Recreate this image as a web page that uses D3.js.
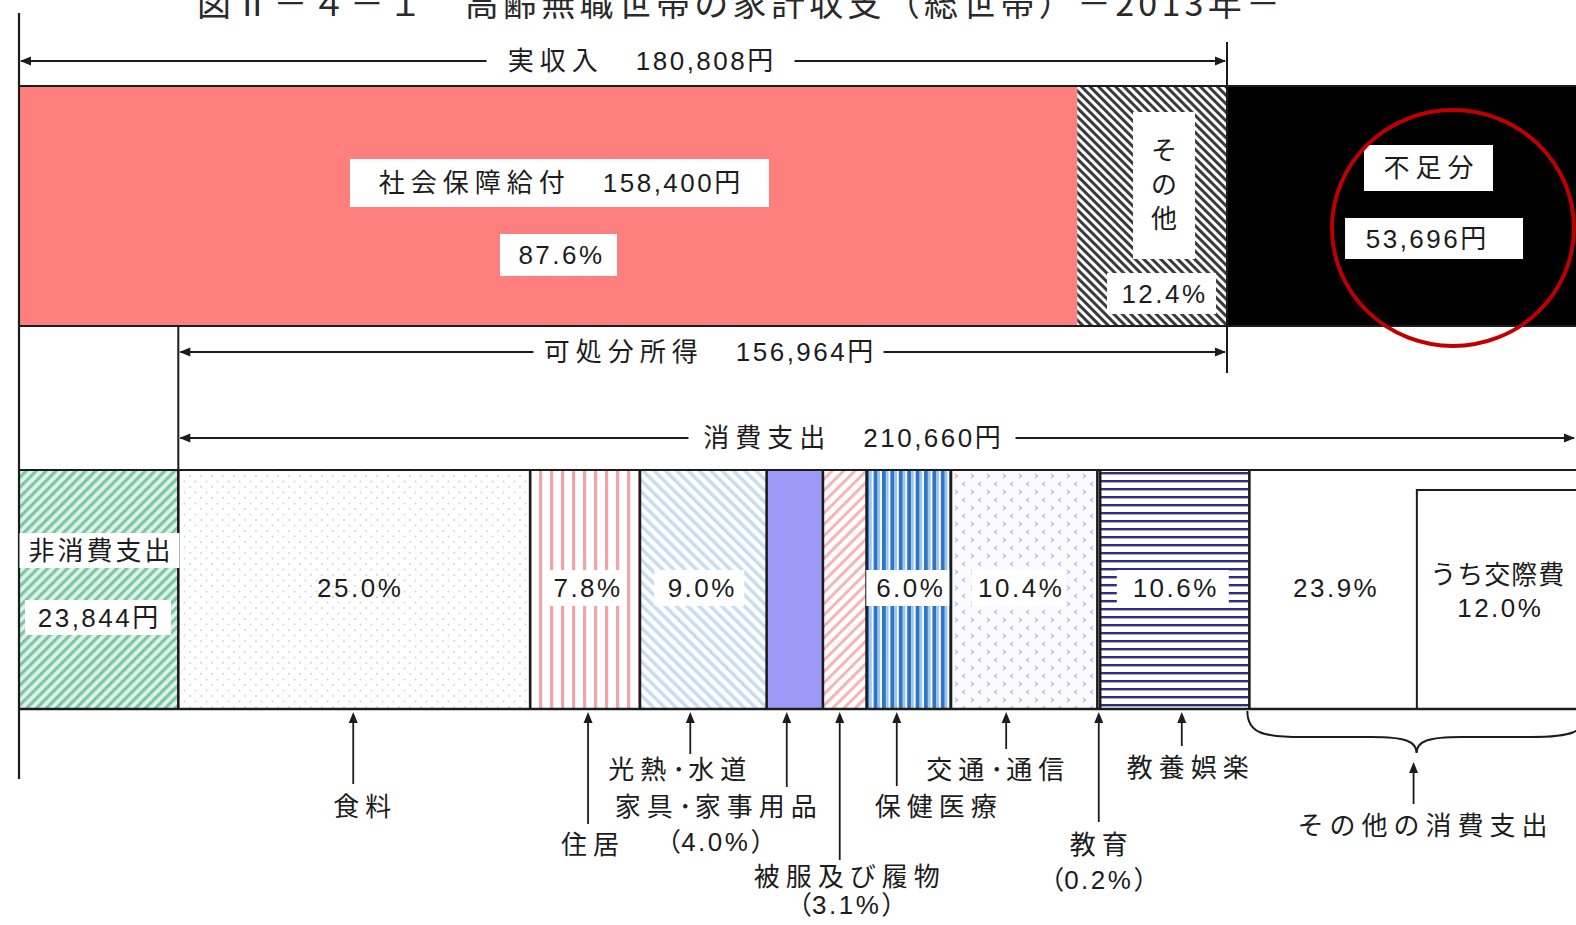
<!DOCTYPE html>
<html><head><meta charset="utf-8">
<script src="https://cdn.jsdelivr.net/npm/d3@7"></script>
<style>
html,body{margin:0;padding:0;background:#fff;overflow:hidden}
svg{display:block}
text{font-family:"Liberation Sans","Noto Sans CJK JP",sans-serif;fill:#1c1c1c}
</style></head><body><svg id="c" width="1576" height="925"></svg>
<script>
// ---------------- data ----------------
const title = "図Ⅱ－４－１　高齢無職世帯の家計収支（総世帯）－2013年－";
const incomeCategories = ["社会保障給付", "その他"];
const incomeValues = [158400, 22408];
const incomeShares = [87.6, 12.4];
const realIncomeLabel = "実収入";
const realIncome = 180808;
const disposableLabel = "可処分所得";
const disposableIncome = 156964;
const deficitLabel = "不足分";
const deficit = 53696;
const nonConsumptionLabel = "非消費支出";
const nonConsumption = 23844;
const consumptionLabel = "消費支出";
const consumptionTotal = 210660;
const consumptionCategories = ["食料", "住居", "光熱･水道", "家具･家事用品", "被服及び履物", "保健医療", "交通･通信", "教育", "教養娯楽", "その他の消費支出"];
const consumptionShares = [25.0, 7.8, 9.0, 4.0, 3.1, 6.0, 10.4, 0.2, 10.6, 23.9];
const socialExpenseLabel = "うち交際費";
const socialExpenseShare = 12.0;

// ---------------- setup ----------------
const W = 1576, H = 925;
const svg = d3.select("#c");
const yen = d3.format(",");
const pct = d3.format(".1f");
const x = d3.scaleLinear().domain([0, realIncome]).range([19, 1227]);
const topY0 = 86, topY1 = 326, botY0 = 470, botY1 = 709;
const INK = "#1c1c1c";

const RX = /[\u3000-\u30ff\u3400-\u9fff\uff00-\uff64\uff66-\uffef\u2160-\u217f]/;
const isCJK = s => RX.test(s);
function rich(t, str, cjkLS = 6, latLS = 2.5) {
  const runs = str.match(/[\u3000-\u30ff\u3400-\u9fff\uff00-\uff64\uff66-\uffef\u2160-\u217f]+|[^\u3000-\u30ff\u3400-\u9fff\uff00-\uff64\uff66-\uffef\u2160-\u217f]+/g);
  runs.forEach(r => t.append("tspan").text(r).attr("letter-spacing", isCJK(r) ? cjkLS : (r === "･" ? 3 : latLS)));
  return t;
}
function label(g, str, cx, cy, opt = {}) {
  const t = g.append("text").attr("x", cx).attr("y", cy)
    .attr("text-anchor", "middle").attr("dominant-baseline", "central")
    .attr("font-size", opt.size || 26);
  rich(t, str, opt.cjk ?? 6, opt.lat ?? 2.5);
  t.attr("dx", (opt.cjk ?? 6) / 2);
  return t;
}
function box(g, cx, cy, w, h) {
  g.append("rect").attr("x", cx - w / 2).attr("y", cy - h / 2).attr("width", w).attr("height", h).attr("fill", "#fff");
}
function head(g, px, py, dir) {
  const L = 11, hw = 4.5;
  let p;
  if (dir === "left") p = [[px, py], [px + L, py - hw], [px + L, py + hw]];
  if (dir === "right") p = [[px, py], [px - L, py - hw], [px - L, py + hw]];
  if (dir === "up") p = [[px, py], [px - hw, py + L], [px + hw, py + L]];
  g.append("path").attr("d", d3.line()(p) + "Z").attr("fill", INK);
}
function hline(g, x0, x1, y, w = 2) {
  g.append("line").attr("x1", x0).attr("x2", x1).attr("y1", y).attr("y2", y).attr("stroke", INK).attr("stroke-width", w);
}
function vline(g, xx, y0, y1, w = 2) {
  g.append("line").attr("x1", xx).attr("x2", xx).attr("y1", y0).attr("y2", y1).attr("stroke", INK).attr("stroke-width", w);
}

// ---------------- patterns ----------------
const defs = svg.append("defs");
function stripes(id, period, fg, fgW, bg, angle) {
  const p = defs.append("pattern").attr("id", id).attr("patternUnits", "userSpaceOnUse")
    .attr("width", period).attr("height", period);
  if (angle) p.attr("patternTransform", `rotate(${angle})`);
  p.append("rect").attr("width", period).attr("height", period).attr("fill", bg);
  p.append("rect").attr("width", fgW).attr("height", period).attr("fill", fg);
  return p;
}
stripes("pOtherInc", 6, "#3a3a3a", 3, "#ffffff", -45);
stripes("pNonCons", 7, "#7cc7a3", 3.2, "#dff2e8", 45);
stripes("pHousing", 11, "#f3a3a6", 3.2, "#ffffff", 0);
stripes("pUtil", 8, "#c6dcf0", 3.5, "#ffffff", -45);
stripes("pCloth", 8, "#f5b5b5", 3, "#ffffff", 45);
(function () {
  const p = defs.append("pattern").attr("id", "pHealth").attr("patternUnits", "userSpaceOnUse").attr("width", 8.4).attr("height", 10);
  p.append("rect").attr("width", 8.4).attr("height", 10).attr("fill", "#ffffff");
  p.append("rect").attr("width", 4).attr("height", 10).attr("fill", "#2f74c8");
  p.append("rect").attr("x", 4).attr("width", 2.6).attr("height", 10).attr("fill", "#9cc6ee");
})();
(function () {
  const p = defs.append("pattern").attr("id", "pCulture").attr("patternUnits", "userSpaceOnUse").attr("width", 10).attr("height", 8);
  p.append("rect").attr("width", 10).attr("height", 8).attr("fill", "#ffffff");
  p.append("rect").attr("width", 10).attr("height", 2.4).attr("fill", "#2e2e80");
})();
(function () {
  const p = defs.append("pattern").attr("id", "pFood").attr("patternUnits", "userSpaceOnUse").attr("width", 11).attr("height", 11);
  p.append("rect").attr("width", 11).attr("height", 11).attr("fill", "#ffffff");
  p.append("circle").attr("cx", 3).attr("cy", 3).attr("r", 0.9).attr("fill", "#cfcfcf");
  p.append("circle").attr("cx", 8.5).attr("cy", 8.5).attr("r", 0.9).attr("fill", "#e2cccc");
})();
(function () {
  const p = defs.append("pattern").attr("id", "pTrans").attr("patternUnits", "userSpaceOnUse").attr("width", 16).attr("height", 16);
  p.append("rect").attr("width", 16).attr("height", 16).attr("fill", "#fbfbff");
  p.append("path").attr("d", "M5,2 L2.5,4 L5,6").attr("fill", "none").attr("stroke", "#b7b7ea").attr("stroke-width", 1.2);
  p.append("path").attr("d", "M11,10 L13.5,12 L11,14").attr("fill", "none").attr("stroke", "#b7b7ea").attr("stroke-width", 1.2);
})();
const consFills = ["url(#pFood)", "url(#pHousing)", "url(#pUtil)", "#9b9bf7", "url(#pCloth)", "url(#pHealth)", "url(#pTrans)", "#ffffff", "url(#pCulture)", "#ffffff"];

// ---------------- title (clipped at top, as in the source) ----------------
svg.append("text").attr("x", 197).attr("y", 16).attr("font-size", 34)
  .attr("textLength", 1083).attr("lengthAdjust", "spacing")
  .style("font-family", '"Noto Sans CJK JP",sans-serif').style("fill", "#2a2a2a").text(title);

// ---------------- top bar ----------------
const gTop = svg.append("g");
let acc = 0;
const incSegs = incomeValues.map((v, i) => { const s = { name: incomeCategories[i], v, share: incomeShares[i], x0: acc, x1: acc + v }; acc += v; return s; });
gTop.selectAll("rect.inc").data(incSegs).join("rect")
  .attr("x", d => x(d.x0)).attr("width", d => x(d.x1) - x(d.x0))
  .attr("y", topY0).attr("height", topY1 - topY0)
  .attr("fill", (d, i) => i === 0 ? "#ff7f7f" : "url(#pOtherInc)");
gTop.append("rect").attr("x", x(realIncome)).attr("width", x(realIncome + deficit) - x(realIncome))
  .attr("y", topY0).attr("height", topY1 - topY0).attr("fill", "#000");

// ---------------- bottom bar ----------------
const gBot = svg.append("g");
gBot.append("rect").attr("x", x(0)).attr("width", x(nonConsumption) - x(0))
  .attr("y", botY0).attr("height", botY1 - botY0).attr("fill", "url(#pNonCons)");
let cum = nonConsumption;
const consSegs = consumptionShares.map((s, i) => {
  const v = consumptionTotal * s / 100;
  const seg = { name: consumptionCategories[i], share: s, x0: cum, x1: cum + v, fill: consFills[i] };
  cum += v; return seg;
});
gBot.selectAll("rect.cons").data(consSegs).join("rect")
  .attr("x", d => x(d.x0)).attr("width", d => x(d.x1) - x(d.x0))
  .attr("y", botY0).attr("height", botY1 - botY0).attr("fill", d => d.fill);
const divs = [nonConsumption].concat(consSegs.map(d => d.x1).slice(0, -1));
divs.forEach(d => vline(gBot, x(d), botY0, botY1, 2.6));

const lastSeg = consSegs[consSegs.length - 1];
const kosaiX0 = lastSeg.x1 - consumptionTotal * socialExpenseShare / 100;
gBot.append("rect").attr("x", x(kosaiX0)).attr("y", 490).attr("width", x(lastSeg.x1) - x(kosaiX0)).attr("height", botY1 - 490)
  .attr("fill", "#fff").attr("stroke", INK).attr("stroke-width", 2);

const gL = svg.append("g");
hline(gL, x(0), W, topY0, 2.2);
hline(gL, x(0), W, topY1, 2.2);
hline(gL, x(0), W, botY0, 2.2);
hline(gL, x(0), W, botY1, 2.6);
vline(gL, x(0), 13, 779, 2.2);
vline(gL, x(realIncome), 42, 373, 2);
vline(gL, x(nonConsumption), topY1, botY0, 2);

// ---------------- top labels ----------------
const gT = svg.append("g");
box(gT, 559.5, 183, 419, 48);
label(gT, incomeCategories[0] + "　" + yen(incomeValues[0]) + "円", 559.5, 183);
box(gT, 558.5, 255, 117, 42);
label(gT, pct(incomeShares[0]) + "%", 558.5, 255);
box(gT, 1164, 185.5, 62, 147);
[...incomeCategories[1]].forEach((ch, i) => label(gT, ch, 1164, 151 + i * 34, { cjk: 0 }));
box(gT, 1161.5, 293.5, 109, 41);
label(gT, pct(incomeShares[1]) + "%", 1161.5, 293.5);
box(gT, 1428.5, 168, 129, 46);
label(gT, deficitLabel, 1428.5, 168);
box(gT, 1434, 238.5, 178, 41);
label(gT, yen(deficit) + "円", 1426, 238.5);
svg.append("ellipse").attr("cx", 1453).attr("cy", 228).attr("rx", 121).attr("ry", 118)
  .attr("fill", "none").attr("stroke", "#c00000").attr("stroke-width", 4);

// ---------------- span arrows ----------------
function span(g, x0, x1, y, txt, cx, gapW, headR = true) {
  hline(g, x0 + 2, x1 - 2, y, 1.8);
  head(g, x0 + 1, y, "left");
  if (headR) head(g, x1 - 1, y, "right");
  box(g, cx, y, gapW, 34);
  label(g, txt, cx, y);
}
const gS = svg.append("g");
span(gS, x(0), x(realIncome), 61, realIncomeLabel + "　" + yen(realIncome) + "円", 640.5, 308);
span(gS, x(nonConsumption), x(realIncome), 352, disposableLabel + "　" + yen(disposableIncome) + "円", 708.5, 350);
span(gS, x(nonConsumption), W, 438, consumptionLabel + "　" + yen(consumptionTotal) + "円", 852, 327);

// ---------------- bottom in-bar labels ----------------
const gB = svg.append("g");
box(gB, 99.5, 550.5, 160, 35);
label(gB, nonConsumptionLabel, 99.5, 550.5, { cjk: 3 });
box(gB, 98, 617.5, 146, 35);
label(gB, yen(nonConsumption) + "円", 98, 617.5);

const inLayout = [
  { dx: 3 }, { dx: 0, w: 78 }, { dx: -4, w: 90 }, null, null,
  { dx: -1, w: 83 }, { dx: -6, w: 93 }, null, { dx: -2, w: 112 }, { at: "mid" }
];
consSegs.forEach((d, i) => {
  const L = inLayout[i]; if (!L) return;
  let cx = (x(d.x0) + x(d.x1)) / 2 + (L.dx || 0);
  if (L.at === "mid") cx = (x(d.x0) + x(kosaiX0)) / 2;
  if (L.w) box(gB, cx, 588, L.w, 36);
  label(gB, pct(d.share) + "%", cx, 588);
});
const kcx = (x(kosaiX0) + x(lastSeg.x1)) / 2 - 4;
label(gB, socialExpenseLabel, kcx, 575, { cjk: 1 });
label(gB, pct(socialExpenseShare) + "%", kcx, 608);

// ---------------- below-bar labels ----------------
const gA = svg.append("g");
const paren = s => "（" + pct(s) + "%）";
const below = [
  { adx: -1, end: 784, lines: [[0, 9, 807]] },
  { adx: 3, end: 824, lines: [[0, 2, 845]] },
  { adx: -13, end: 754, lines: [[0, -13, 770]] },
  { adx: -8, end: 787, lines: [[0, -71, 807], [1, -71, 842]] },
  { adx: -5, end: 860, lines: [[0, 7, 877], [1, 7, 905]] },
  { adx: -12, end: 786, lines: [[0, 39, 807]] },
  { adx: -18, end: 749, lines: [[0, -11, 770]] },
  { adx: 0, end: 822, lines: [[0, 0, 845], [1, 0, 880]] },
  { adx: 7, end: 746, lines: [[0, 6, 768]] }
];
below.forEach((b, i) => {
  const d = consSegs[i];
  const ax = (x(d.x0) + x(d.x1)) / 2 + b.adx;
  vline(gA, ax, botY1 + 8, b.end, 1.8);
  head(gA, ax, botY1 + 3, "up");
  b.lines.forEach(([kind, ldx, ly]) => {
    label(gA, kind === 0 ? d.name : paren(d.share), ax + ldx, ly, kind === 0 ? {} : { cjk: 0 });
  });
});
const bx0 = x(lastSeg.x0) - 2, bx1 = x(lastSeg.x1), bm = (bx0 + bx1) / 2;
const by0 = botY1 + 2, by1 = 737, btip = 753;
gA.append("path").attr("fill", "none").attr("stroke", INK).attr("stroke-width", 2)
  .attr("d", `M${bx0},${by0} C${bx0},${by1 - 4} ${bx0 + 15},${by1} ${bx0 + 55},${by1} L${bm - 45},${by1} C${bm - 12},${by1} ${bm},${by1 + 4} ${bm},${btip} C${bm},${by1 + 4} ${bm + 12},${by1} ${bm + 45},${by1} L${bx1 - 55},${by1} C${bx1 - 15},${by1} ${bx1},${by1 - 4} ${bx1},${by0}`);
vline(gA, bm - 3, 768, 804, 1.8);
head(gA, bm - 3, 762, "up");
label(gA, lastSeg.name, bm + 6, 826);
</script></body></html>
